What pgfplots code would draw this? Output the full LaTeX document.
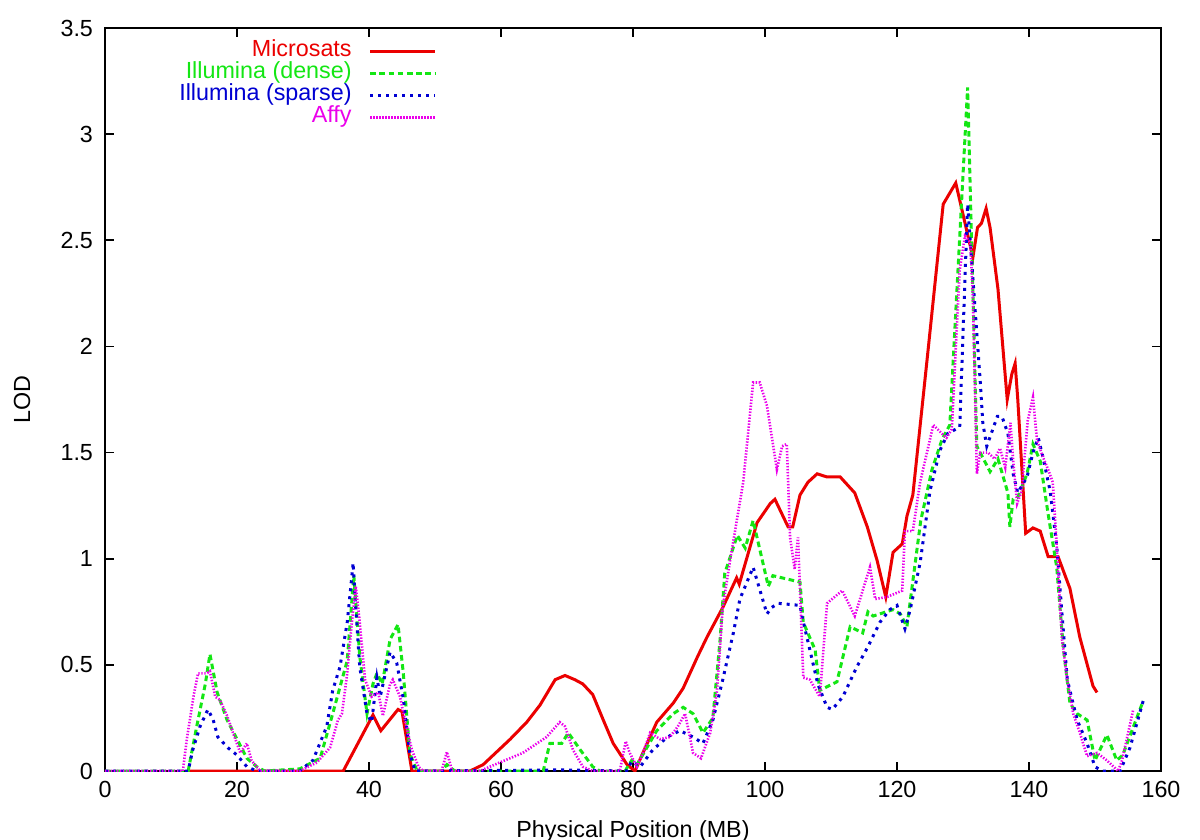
\documentclass[border=0pt]{standalone}
\usepackage{pgfplots}
\pgfplotsset{compat=1.18}
\usepackage{fontspec}
\setmainfont{Liberation Sans}
\definecolor{cred}{RGB}{235,0,0}
\definecolor{cgreen}{RGB}{20,230,20}
\definecolor{cblue}{RGB}{0,0,210}
\definecolor{cmag}{RGB}{235,0,235}
\begin{document}
\begin{tikzpicture}[font=\fontsize{11.7}{14}\selectfont]
\useasboundingbox (-52.5bp,-34.5bp) rectangle (547.5bp,385.5bp);
\begin{axis}[
  scale only axis, width=528bp, height=371.5bp,
  xmin=0, xmax=160, ymin=0, ymax=3.5,
  xtick={0,20,...,160}, ytick={0,0.5,...,3.5},
  tick align=inside, major tick length=4.5bp,
  xtick pos=both, ytick pos=both,
  axis line style={line width=1bp}, tick style={line width=0.8bp,black},
  /pgf/number format/assume math mode=true,
  xticklabel style={yshift=-1.5bp},
  yticklabel style={xshift=-2.5bp},
  xlabel={Physical Position (MB)}, ylabel={LOD},
  xlabel style={at={(axis description cs:0.5,0)}, anchor=center, yshift=-30bp},
  ylabel style={at={(axis description cs:-0.0786,0.5)}, anchor=center},
  legend cell align=right, legend plot pos=right,
  legend style={draw=none, fill=none, at={(0.3144,0.984)}, anchor=north east,
    inner sep=0pt, row sep=0pt, column sep=8.5bp,
    nodes={inner sep=0pt, text height=8.3bp, text depth=2.7bp}},
  legend image code/.code={\draw[#1] (0bp,0bp) -- (32.5bp,0bp);},
]
\addplot[cred, line width=1.5bp] coordinates {
(12.6,0)(36.1,0)(40.6,0.264)(41.8,0.19)(44.4,0.29)(45.0,0.28)(46.5,0)(55.3,0)
(57.3,0.03)(61.4,0.15)(63.9,0.23)(65.9,0.31)(68.2,0.43)(69.7,0.45)(71.2,0.43)
(72.4,0.41)(73.9,0.36)(75.5,0.24)(77.0,0.13)(79.1,0.03)(80.3,0)(81.5,0.085)
(83.6,0.23)(86.1,0.32)(87.6,0.39)(89.8,0.54)(91.2,0.63)(93.6,0.77)(95.7,0.91)
(96.1,0.88)(98.8,1.17)(100.8,1.26)(101.5,1.28)(103.5,1.15)(104.2,1.15)(105.3,1.30)
(106.5,1.36)(107.9,1.40)(109.4,1.385)(111.4,1.385)(113.6,1.31)(115.5,1.15)
(117.0,0.99)(118.3,0.82)(119.4,1.03)(120.8,1.07)(121.5,1.20)(122.4,1.30)
(124.7,1.98)(127.0,2.67)(128.9,2.77)(131.5,2.42)(132.2,2.56)
(132.8,2.58)(133.5,2.65)(134.1,2.56)(135.3,2.27)(136.7,1.75)(137.4,1.87)
(137.9,1.92)(138.3,1.75)(139.5,1.12)(140.6,1.145)(141.7,1.13)(142.9,1.01)
(144.4,1.01)(146.2,0.86)(147.7,0.63)(149.7,0.40)(150.3,0.37)};
\addlegendentry{\textcolor{cred}{Microsats}}
\addplot[cgreen, line width=1.5bp, dash pattern=on 2.8bp off 1.8bp] coordinates {
(0,0)(12.6,0)(13.9,0.21)(15.2,0.41)(15.9,0.55)(17.0,0.37)(18.5,0.24)(20.0,0.15)
(21.5,0.06)(23.0,0.02)(24.2,0)(29.5,0.01)(32.6,0.06)(34.5,0.27)(36.7,0.52)
(37.7,0.92)(38.6,0.54)(39.7,0.27)(40.6,0.41)(41.2,0.46)(42.0,0.41)(43.2,0.62)
(44.4,0.69)(45.2,0.46)(46.2,0.08)(47.3,0)(51.0,0)(51.8,0.03)(53.0,0)(66.4,0)
(67.4,0.13)(69.2,0.13)(70.2,0.18)(72.0,0.10)(73.9,0.02)(75.0,0)(78.8,0)
(79.8,0.05)(80.6,0.03)(82.1,0.11)(83.6,0.19)(86.1,0.27)(87.6,0.30)(89.1,0.27)
(90.6,0.18)(92.1,0.25)(93.2,0.62)(93.9,0.93)(95.8,1.11)(97.0,1.05)(98.2,1.18)
(100.5,0.87)(101.2,0.92)(105.3,0.89)(105.8,0.70)(107.6,0.57)(108.3,0.38)
(110.9,0.42)(112.9,0.68)(114.8,0.65)(115.6,0.75)(116.4,0.73)(119.4,0.76)
(120.5,0.74)(121.5,0.68)(123.6,1.18)(125.3,1.42)(126.8,1.56)(128.0,1.63)
(130.7,3.22)(132.1,1.53)(134.1,1.41)(135.3,1.47)(136.8,1.31)(137.1,1.15)
(137.6,1.28)(138.3,1.29)(139.7,1.40)(140.6,1.54)(141.7,1.46)(142.9,1.21)
(144.2,0.96)(145.2,0.58)(146.2,0.32)(147.3,0.27)(148.8,0.24)(150.0,0.05)
(151.8,0.17)(153.3,0.05)(154.2,0.075)(157.3,0.33)};
\addlegendentry{\textcolor{cgreen}{Illumina (dense)}}
\addplot[cblue, line width=1.5bp, dash pattern=on 1.5bp off 2.5bp] coordinates {
(0,0)(12.6,0)(13.3,0.10)(14.4,0.21)(15.6,0.29)(16.4,0.24)(17.1,0.16)(18.6,0.11)
(20.0,0.075)(21.5,0.02)(23.0,0)(29.5,0)(31.5,0.05)(33.6,0.21)(34.5,0.38)
(35.6,0.49)(36.7,0.70)(37.6,0.98)(37.9,0.81)(38.6,0.49)(39.7,0.27)(40.4,0.23)
(41.2,0.44)(41.7,0.35)(43.2,0.56)(44.2,0.51)(45.2,0.34)(46.2,0.08)(47.0,0)
(69.0,0.005)(79.0,0)(79.8,0.045)(81.1,0.02)(83.0,0.10)(85.2,0.16)(87.1,0.19)
(89.1,0.16)(90.6,0.13)(92.1,0.24)(93.6,0.43)(95.2,0.65)(96.2,0.81)(98.2,0.96)
(100.3,0.74)(101.0,0.77)(102.0,0.79)(105.3,0.78)(105.6,0.73)(106.8,0.57)
(108.0,0.41)(109.4,0.30)(110.2,0.29)(111.8,0.35)(113.9,0.49)(115.5,0.58)
(117.4,0.70)(118.9,0.76)(120.0,0.78)(121.2,0.67)(122.0,0.76)(123.5,0.98)
(125.0,1.32)(126.5,1.51)(127.7,1.59)(129.5,1.62)(130.7,2.67)(132.6,1.84)
(133.0,1.64)(133.6,1.53)(135.2,1.67)(135.9,1.67)(136.8,1.59)(137.6,1.40)
(138.3,1.31)(139.7,1.385)(140.6,1.50)(141.4,1.57)(142.1,1.48)(143.2,1.32)
(144.2,1.06)(145.0,0.74)(145.8,0.43)(147.3,0.24)(148.8,0.13)(150.0,0.02)
(151.1,0)(153.8,0)(155.3,0.11)(157.3,0.33)};
\addlegendentry{\textcolor{cblue}{Illumina (sparse)}}
\addplot[cmag, line width=1.3bp, dash pattern=on 0.7bp off 0.8bp] coordinates {
(0,0)(11.8,0)(12.4,0.15)(13.4,0.35)(14.1,0.46)(15.4,0.46)(15.9,0.47)(16.7,0.35)
(17.4,0.335)(18.5,0.26)(19.4,0.18)(20.5,0.085)(21.5,0.13)(22.2,0.05)(23.5,0)
(29.5,0)(32.1,0.04)(34.1,0.11)(35.3,0.24)(35.9,0.27)(36.7,0.46)(37.4,0.70)
(38.0,0.87)(38.6,0.70)(39.4,0.43)(40.4,0.35)(41.4,0.37)(42.1,0.26)(43.2,0.41)
(43.6,0.43)(44.7,0.35)(45.5,0.23)(46.5,0.10)(47.5,0.02)(48.2,0)(51.0,0)
(51.8,0.09)(52.6,0)(56.8,0)(59.8,0.04)(63.3,0.085)(66.9,0.16)(68.9,0.23)
(69.7,0.21)(70.9,0.10)(72.4,0.02)(73.9,0)(78.0,0)(78.9,0.14)(79.5,0.085)
(80.6,0.02)(81.5,0.085)(82.6,0.18)(84.1,0.15)(85.6,0.16)(86.8,0.21)(87.9,0.27)
(89.1,0.085)(90.3,0.06)(91.7,0.18)(92.7,0.37)(93.6,0.77)(94.7,0.99)(96.7,1.36)
(98.2,1.83)(99.2,1.83)(100.3,1.72)(101.8,1.42)(102.6,1.53)(103.3,1.54)
(103.8,1.10)(104.5,0.95)(105.0,1.10)(105.8,0.44)(106.8,0.43)(108.3,0.35)
(109.4,0.79)(111.7,0.85)(113.6,0.73)(115.9,0.96)(116.7,0.81)(118.5,0.82)
(120.8,0.85)(121.2,1.13)(122.4,1.13)(123.5,1.36)(125.5,1.63)(126.8,1.59)
(127.5,1.57)(128.3,1.61)(129.5,2.36)(130.3,2.52)(131.1,2.49)(131.5,2.23)
(132.1,1.40)(132.6,1.50)(133.8,1.50)(134.8,1.47)(135.6,1.52)(136.4,1.43)
(137.2,1.64)(137.6,1.46)(138.2,1.26)(138.9,1.32)(139.8,1.65)(140.6,1.76)
(141.2,1.56)(142.1,1.48)(142.9,1.42)(143.6,1.36)(144.2,1.06)(145.0,0.62)
(145.8,0.43)(146.7,0.27)(147.7,0.18)(148.8,0.07)(150.3,0.085)(151.8,0.05)
(153.5,0)(154.1,0.05)(155.8,0.29)};
\addlegendentry{\textcolor{cmag}{Affy}}
\end{axis}
\end{tikzpicture}
\end{document}
